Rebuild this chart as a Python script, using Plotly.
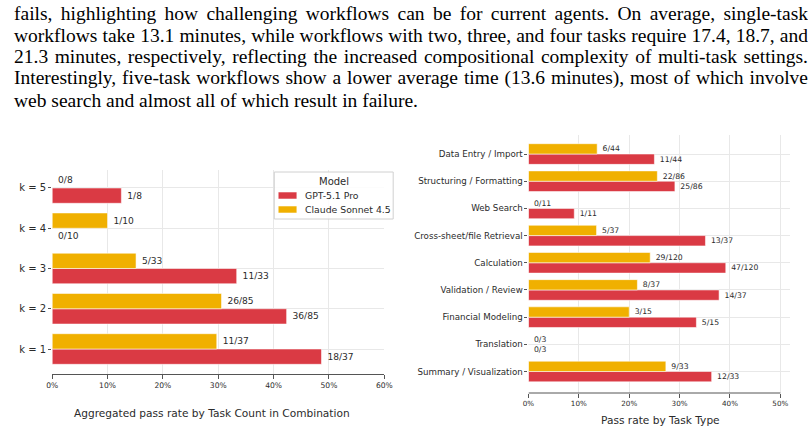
import json
import plotly.graph_objects as go

# ---------------- data ----------------
paragraph_lines = [
    "fails, highlighting how challenging workflows can be for current agents. On average, single-task",
    "workflows take 13.1 minutes, while workflows with two, three, and four tasks require 17.4, 18.7, and",
    "21.3 minutes, respectively, reflecting the increased compositional complexity of multi-task settings.",
    "Interestingly, five-task workflows show a lower average time (13.6 minutes), most of which involve",
    "web search and almost all of which result in failure.",
]

models = ["GPT-5.1 Pro", "Claude Sonnet 4.5"]
legend_title = "Model"

k_labels = ["k = 1", "k = 2", "k = 3", "k = 4", "k = 5"]
k_total = [37, 85, 33, 10, 8]
k_gpt_pass = [18, 36, 11, 0, 1]
k_claude_pass = [11, 26, 5, 1, 0]

task_types = [
    "Summary / Visualization",
    "Translation",
    "Financial Modeling",
    "Validation / Review",
    "Calculation",
    "Cross-sheet/file Retrieval",
    "Web Search",
    "Structuring / Formatting",
    "Data Entry / Import",
]
task_total = [33, 3, 15, 37, 120, 37, 11, 86, 44]
task_gpt_pass = [12, 0, 5, 14, 47, 13, 1, 25, 11]
task_claude_pass = [9, 0, 3, 8, 29, 5, 0, 22, 6]

left_ticks = [0, 10, 20, 30, 40, 50, 60]
right_ticks = [0, 10, 20, 30, 40, 50]

left_title = "Aggregated pass rate by Task Count in Combination"
right_title = "Pass rate by Task Type"

# ---------------- style ----------------
W, H = 808, 433
RED = "#DA3A44"
YELLOW = "#F0B000"
COLORS = [RED, YELLOW]
TXT = "#2b2b2b"
GRID = "#e8e8e8"
AX = "#555555"
SANS = "DejaVu Sans"
SERIF = "Liberation Serif"


def px(x):
    return x / W


def py(y):
    return 1 - y / H


def rates(passes, totals):
    return [100.0 * p / n for p, n in zip(passes, totals)]


def labels(passes, totals):
    return ["\u00a0" + f"{p}/{n}" for p, n in zip(passes, totals)]


fig = go.Figure()
edge = dict(color="rgba(255,255,255,0.55)", width=1)


def add_bars(y, passes_list, totals, xa, ya, fsize):
    for name, color, passes in zip(models, COLORS, passes_list):
        fig.add_trace(go.Bar(
            x=rates(passes, totals), y=y, orientation="h", name=name,
            marker=dict(color=color, line=edge), showlegend=False,
            text=labels(passes, totals), textposition="outside", cliponaxis=False,
            constraintext="none",
            textfont=dict(family=SANS, size=fsize, color=TXT), xaxis=xa, yaxis=ya,
            hoverinfo="skip",
        ))


add_bars(k_labels, [k_gpt_pass, k_claude_pass], k_total, "x", "y", 9.1)
add_bars(task_types, [task_gpt_pass, task_claude_pass], task_total, "x2", "y2", 7.7)

right_max = 50 * (798 - 531.7) / (788 - 531.7)

common_x = dict(showgrid=True, gridcolor=GRID, gridwidth=1, zeroline=False,
                ticks="outside", ticklen=3.5, tickcolor=AX, tickwidth=1, fixedrange=True)
common_y = dict(type="category", showgrid=True, gridcolor=GRID, gridwidth=1,
                zeroline=False, showline=False, ticks="outside", ticklen=3,
                tickcolor=AX, tickwidth=1, fixedrange=True, categoryorder="array")

fig.update_layout(
    width=W, height=H, margin=dict(l=0, r=0, t=0, b=0),
    paper_bgcolor="white", plot_bgcolor="white",
    barmode="group", bargap=0.24, bargroupgap=0,
    font=dict(family=SANS, color=TXT),
    showlegend=False,
    xaxis=dict(domain=[px(47), px(385)], range=[0, 60], tickvals=left_ticks,
               ticktext=[f"{t}%" for t in left_ticks],
               showline=True, linecolor=AX, linewidth=1, anchor="y",
               tickfont=dict(family=SANS, size=7.6, color=TXT), **common_x),
    yaxis=dict(domain=[py(374), py(170)], categoryarray=k_labels,
               range=[-0.621, 4.447], anchor="x",
               tickfont=dict(family=SANS, size=10, color=TXT), **common_y),
    xaxis2=dict(domain=[px(531.7), px(798)], range=[0, right_max], tickvals=right_ticks,
                ticktext=[f"{t}%" for t in right_ticks],
                showline=False, anchor="y2",
                tickfont=dict(family=SANS, size=7.2, color=TXT), **common_x),
    yaxis2=dict(domain=[py(393), py(135)], categoryarray=task_types,
                range=[-0.79, 8.70], anchor="x2",
                tickfont=dict(family=SANS, size=8.7, color=TXT), **common_y),
)

# trimmed bottom spine for the right chart
fig.add_shape(type="line", xref="x2", yref="y2 domain", x0=right_ticks[0], x1=right_ticks[-1],
              y0=0, y1=0, line=dict(color=AX, width=1), layer="above")

# legend box (drawn in paper space)
fig.add_shape(type="rect", xref="paper", yref="paper", x0=px(273), x1=px(394),
              y0=py(219), y1=py(172), fillcolor="rgba(255,255,255,0.85)",
              line=dict(color="#d0d0d0", width=1), layer="above")
fig.add_annotation(text=legend_title, xref="paper", yref="paper", x=px(333.5), y=py(181.5),
                   xanchor="center", yanchor="middle", showarrow=False,
                   font=dict(family=SANS, size=10, color=TXT))
for i, (name, color) in enumerate(zip(models, COLORS)):
    yc = 195.5 + 14 * i
    fig.add_shape(type="rect", xref="paper", yref="paper", x0=px(277), x1=px(296),
                  y0=py(yc + 3.5), y1=py(yc - 3.5), fillcolor=color,
                  line=dict(color="rgba(255,255,255,0.55)", width=1), layer="above")
    fig.add_annotation(text=name, xref="paper", yref="paper", x=px(302), y=py(yc),
                       xanchor="left", yanchor="middle", showarrow=False,
                       font=dict(family=SANS, size=9.3, color=TXT))

# axis titles
fig.add_annotation(text=left_title, xref="paper", yref="paper", x=px(210), y=py(413),
                   xanchor="center", yanchor="middle", showarrow=False,
                   font=dict(family=SANS, size=10.6, color=TXT))
fig.add_annotation(text=right_title, xref="paper", yref="paper", x=px(666.5), y=py(420),
                   xanchor="center", yanchor="middle", showarrow=False,
                   font=dict(family=SANS, size=10.6, color=TXT))

# paragraph text
PSIZE = 19.5
base0, pitch = 20.2, 21.6
for i, line in enumerate(paragraph_lines):
    baseline = base0 + i * pitch
    fig.add_annotation(text=line, xref="paper", yref="paper", x=px(6),
                       y=py(baseline - 0.3375 * PSIZE),
                       xanchor="left", yanchor="middle", align="left", showarrow=False,
                       font=dict(family=SERIF, size=PSIZE, color="#000000"))

post = """
var gd = document.getElementById('{plot_id}');
var JUST = %s;
var TARGET = 794;
gd.querySelectorAll('text.annotation-text').forEach(function(t){
  var s = t.textContent;
  if (JUST.indexOf(s) < 0) return;
  t.style.wordSpacing = '0px';
  var n = (s.match(/ /g) || []).length;
  var L = t.getComputedTextLength();
  if (n > 0) t.style.wordSpacing = ((TARGET - L) / n) + 'px';
});
""" % json.dumps(paragraph_lines[:4])

fig.write_html("out.html", post_script=post, config={"displayModeBar": False})
